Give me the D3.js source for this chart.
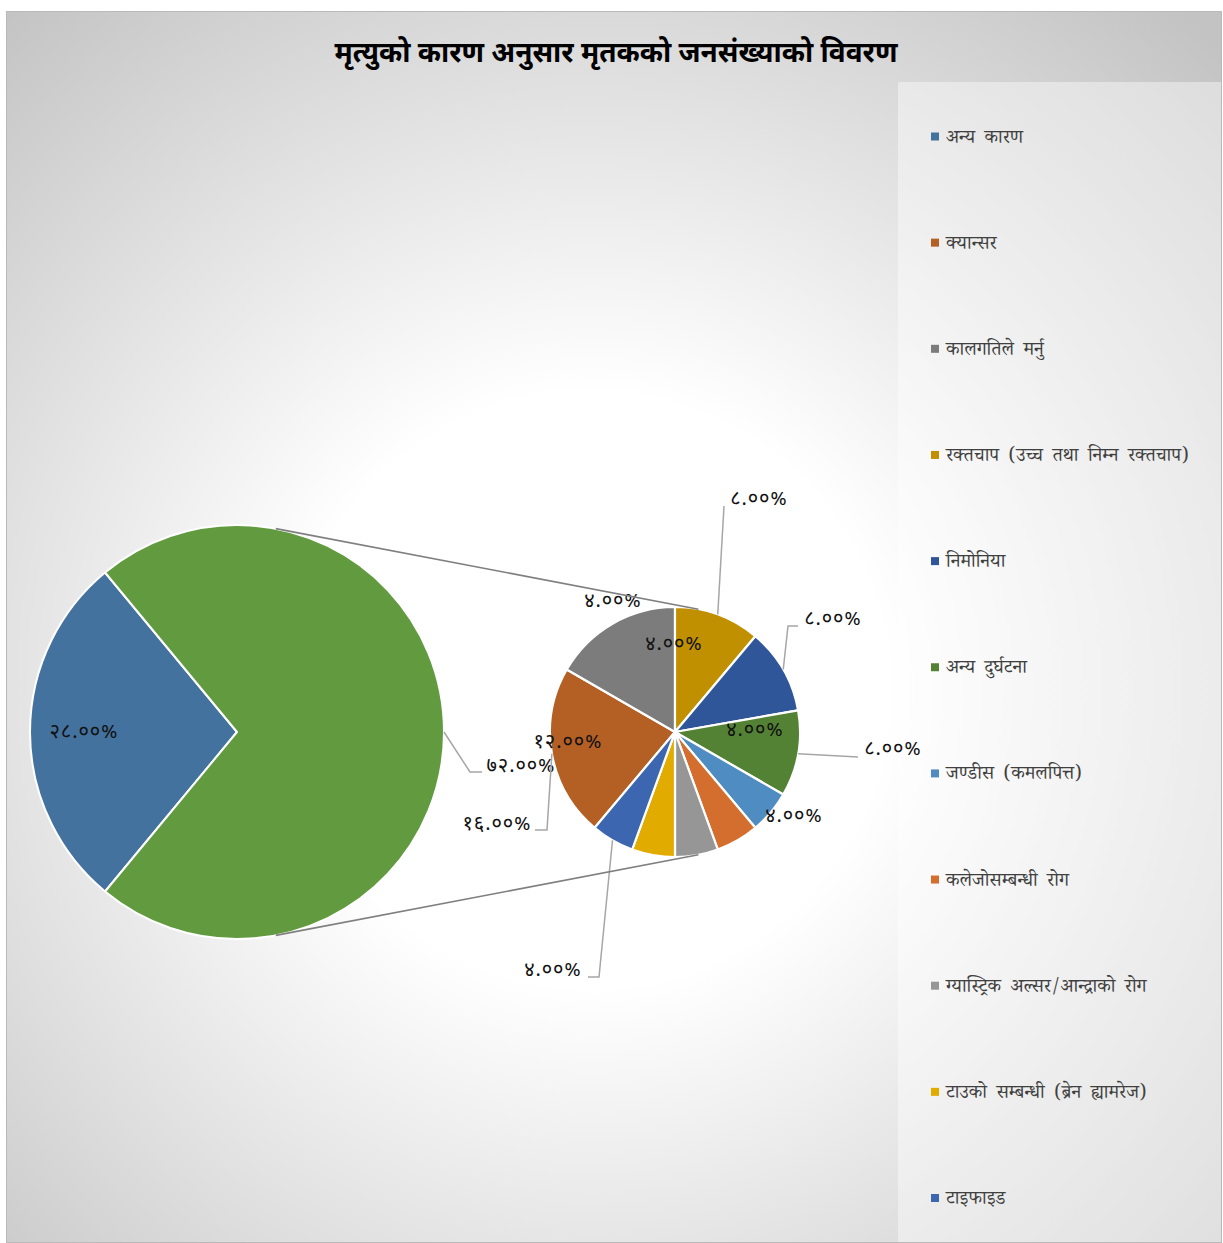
<!DOCTYPE html>
<html>
<head>
<meta charset="utf-8">
<script src="https://cdn.jsdelivr.net/npm/d3@7"></script>
<style>
  html, body { margin: 0; padding: 0; background: #ffffff; }
  svg { display: block; }
  .dev { font-family: "Noto Sans Devanagari", "Noto Serif Devanagari", "Lohit Devanagari", "Mangal", "FreeSans", "Noto Sans", sans-serif; }
  .devserif { font-family: "Noto Serif Devanagari", "Noto Sans Devanagari", "Lohit Devanagari", "Mangal", serif; }
</style>
</head>
<body>
<svg id="chart" width="1223" height="1243"></svg>
<script>
// Causes of death — pie of pie
const title = "मृत्युको कारण अनुसार मृतकको जनसंख्याको विवरण";

const categories = [
  "अन्य कारण",
  "क्यान्सर",
  "कालगतिले मर्नु",
  "रक्तचाप (उच्च तथा निम्न रक्तचाप)",
  "निमोनिया",
  "अन्य दुर्घटना",
  "जण्डीस (कमलपित्त)",
  "कलेजोसम्बन्धी रोग",
  "ग्यास्ट्रिक अल्सर/आन्द्राको रोग",
  "टाउको सम्बन्धी (ब्रेन ह्यामरेज)",
  "टाइफाइड"
];
const shares = [28, 16, 12, 8, 8, 8, 4, 4, 4, 4, 4];
const sliceColors = [
  "#43729e", "#b46025", "#7c7c7c", "#c09000", "#30569a", "#548235",
  "#4f8cc1", "#d46e2e", "#969696", "#e2ab00", "#3d66b0"
];
const otherColor = "#629b3f";
const otherShare = 72;

// first category stays in the main pie, the rest are split out
const splitIdx = d3.range(1, categories.length);

const svg = d3.select("#chart");

// ---------- background ----------
const defs = svg.append("defs");
const bg = defs.append("radialGradient").attr("id", "bgGrad")
  .attr("gradientUnits", "userSpaceOnUse")
  .attr("cx", 590).attr("cy", 690).attr("r", 900);
bg.append("stop").attr("offset", 0).attr("stop-color", "#ffffff");
bg.append("stop").attr("offset", 0.33).attr("stop-color", "#ffffff");
bg.append("stop").attr("offset", 1).attr("stop-color", "#c3c3c3");

svg.append("rect").attr("x", 6.5).attr("y", 11.5).attr("width", 1215).attr("height", 1231)
  .attr("fill", "url(#bgGrad)").attr("stroke", "#b9b9b9").attr("stroke-width", 1);

// legend panel
svg.append("rect").attr("x", 898).attr("y", 82).attr("width", 323).attr("height", 1160)
  .attr("fill", "#ffffff").attr("fill-opacity", 0.42);

// ---------- title ----------
svg.append("text").attr("class", "dev")
  .attr("x", 616).attr("y", 62)
  .attr("text-anchor", "middle")
  .attr("font-size", 28).attr("font-weight", "bold")
  .attr("fill", "#000000")
  .text(title);

// ---------- helpers ----------
const devDigits = "०१२३४५६७८९";
const toDev = s => s.replace(/[0-9]/g, c => devDigits[+c]);
const pctText = v => toDev(v.toFixed(2)) + "%";

// ---------- main pie ----------
const mainC = [237, 732], mainR = 207;
const subC = [675, 732], subR = 125;

const mainData = [
  { key: 0, value: shares[0], color: sliceColors[0] },
  { key: "other", value: otherShare, color: otherColor }
];
const mainTotal = d3.sum(mainData, d => d.value);
// the kept slice is centred on the left side
const mainStart = 1.5 * Math.PI - Math.PI * shares[0] / mainTotal;
const mainPie = d3.pie().sort(null).value(d => d.value)
  .startAngle(mainStart).endAngle(mainStart + 2 * Math.PI);
const mainArc = d3.arc().innerRadius(0).outerRadius(mainR);
const mainArcs = mainPie(mainData);

const gMain = svg.append("g").attr("transform", `translate(${mainC})`);
gMain.selectAll("path").data(mainArcs).join("path")
  .attr("d", mainArc)
  .attr("fill", d => d.data.color)
  .attr("stroke", "#ffffff").attr("stroke-width", 2).attr("stroke-linejoin", "round");

// ---------- secondary pie ----------
const subData = splitIdx.map(i => ({ key: i, value: shares[i], color: sliceColors[i] }));
const subTotal = d3.sum(subData, d => d.value);
// rotate so the fourth category starts at 12 o'clock
const subStart = -2 * Math.PI * (shares[1] + shares[2]) / subTotal;
const subPie = d3.pie().sort(null).value(d => d.value)
  .startAngle(subStart).endAngle(subStart + 2 * Math.PI);
const subArc = d3.arc().innerRadius(0).outerRadius(subR);
const subArcs = subPie(subData);

const gSub = svg.append("g").attr("transform", `translate(${subC})`);
gSub.selectAll("path").data(subArcs).join("path")
  .attr("d", subArc)
  .attr("fill", d => d.data.color)
  .attr("stroke", "#ffffff").attr("stroke-width", 2.2).attr("stroke-linejoin", "round");

// ---------- connector lines (external tangents of the two circles) ----------
const dist = subC[0] - mainC[0];
const phi = Math.asin((mainR - subR) / dist);
[-1, 1].forEach(s => {
  const p1 = [mainC[0] + mainR * Math.sin(phi), mainC[1] + s * mainR * Math.cos(phi)];
  const p2 = [subC[0] + subR * Math.sin(phi), subC[1] + s * subR * Math.cos(phi)];
  svg.append("line")
    .attr("x1", p1[0]).attr("y1", p1[1]).attr("x2", p2[0]).attr("y2", p2[1])
    .attr("stroke", "#7f7f7f").attr("stroke-width", 1.6);
});

// ---------- data labels ----------
// label placement relative to each pie's centre; leaders run label → elbow → slice edge
const subLabelPos = {
  1: { at: [-178, 93], leader: [[-140, 98], [-128, 98]] },
  2: { at: [-107, 11] },
  3: { at: [84, -232], leader: [[49, -226]] },
  4: { at: [158, -112], leader: [[123, -106], [113, -106]] },
  5: { at: [218, 18], leader: [[183, 25]] },
  6: { at: [119, 85] },
  7: { at: [80, -1] },
  8: { at: [-1, -87] },
  9: { at: [-62, -130] },
  10: { at: [-122, 239], leader: [[-87, 245], [-76, 245]] }
};

const leaderColor = "#a6a6a6";
const labelSize = 20;

function edgePoint(a, r) {
  const m = (a.startAngle + a.endAngle) / 2;
  return [r * Math.sin(m), -r * Math.cos(m)];
}

function addLabel(g, spec, value) {
  g.append("text").attr("class", "dev")
    .attr("x", spec.at[0]).attr("y", spec.at[1])
    .attr("text-anchor", "middle").attr("dominant-baseline", "central")
    .attr("font-size", labelSize).attr("letter-spacing", 0.9).attr("fill", "#111111")
    .text(pctText(value));
}

subArcs.forEach(a => {
  const spec = subLabelPos[a.data.key];
  if (spec.leader) {
    const pts = spec.leader.concat([edgePoint(a, subR)]);
    gSub.append("polyline")
      .attr("points", pts.map(p => p.join(",")).join(" "))
      .attr("fill", "none").attr("stroke", leaderColor).attr("stroke-width", 1.5);
  }
  addLabel(gSub, spec, a.data.value);
});

const mainLabelPos = {
  0: { at: [-153, 1] },
  other: { at: [284, 35], leader: [[245, 40], [233, 40]] }
};
mainArcs.forEach(a => {
  const spec = mainLabelPos[a.data.key];
  if (spec.leader) {
    const pts = [edgePoint(a, mainR)].concat(spec.leader.slice().reverse());
    gMain.append("polyline")
      .attr("points", pts.map(p => p.join(",")).join(" "))
      .attr("fill", "none").attr("stroke", leaderColor).attr("stroke-width", 1.5);
  }
  addLabel(gMain, spec, a.data.value);
});

// ---------- legend ----------
const legY = d3.scalePoint().domain(d3.range(categories.length)).range([139.5, 1201]);
const gLeg = svg.append("g");
const items = gLeg.selectAll("g").data(categories).join("g")
  .attr("transform", (d, i) => `translate(931,${legY(i)})`);
items.append("rect").attr("x", 0).attr("y", -7).attr("width", 8).attr("height", 8)
  .attr("fill", (d, i) => sliceColors[i]);
items.append("text").attr("class", "devserif")
  .attr("x", 15).attr("y", 0).attr("dominant-baseline", "central")
  .attr("font-size", 19).attr("word-spacing", 4.5).attr("fill", "#404040")
  .text(d => d);
</script>
</body>
</html>
